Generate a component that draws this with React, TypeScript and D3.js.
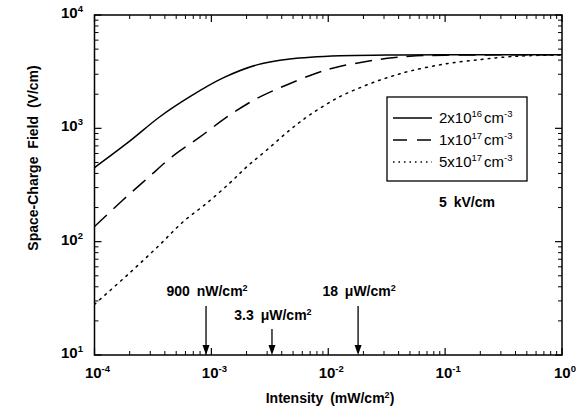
import React from "react";
import * as d3 from "d3";

// ---- data (intensity in mW/cm^2, field in V/cm) ----
const solidIntensity = [1e-4, 2e-4, 3.6e-4, 6.5e-4, 1.26e-3, 2.45e-3, 4.7e-3, 1.26e-2, 3.2e-2, 1e-1, 1];
const solidField = [450, 770, 1259, 1893, 2786, 3631, 4100, 4380, 4430, 4450, 4460];

const dashedIntensity = [1e-4, 1.75e-4, 2.86e-4, 4.6e-4, 8e-4, 1.44e-3, 2.5e-3, 4.4e-3, 8e-3, 1.2e-2, 2e-2, 3.2e-2, 5e-2, 1e-1, 3.2e-1, 1];
const dashedField = [136, 233, 365, 560, 840, 1312, 1855, 2415, 3083, 3483, 3850, 4150, 4330, 4420, 4450, 4460];

const dottedIntensity = [1e-4, 2e-4, 3.6e-4, 5.7e-4, 9.2e-4, 1.44e-3, 2e-3, 2.98e-3, 4.7e-3, 6.95e-3, 1.2e-2, 2e-2, 3.2e-2, 5e-2, 1e-1, 2e-1, 3.2e-1, 5e-1, 1];
const dottedField = [28, 53, 93.5, 149, 220, 330, 456, 644, 968, 1313, 1855, 2350, 2800, 3200, 3700, 4050, 4250, 4370, 4450];

const legendBase = ["2x10", "1x10", "5x10"];
const legendExp = ["16", "17", "17"];

const xMajor = [1e-4, 1e-3, 1e-2, 1e-1, 1];
const xMajorExp = ["-4", "-3", "-2", "-1", "0"];
const yMajor = [10, 100, 1000, 10000];
const yMajorExp = ["1", "2", "3", "4"];

const markerIntensity = [9e-4, 3.3e-3, 1.8e-2];
const markerBase = ["900 nW/cm", "3.3 \u03bcW/cm", "18 \u03bcW/cm"];

const W = 577, H = 413;
const L = 94.5, R = 562, T = 15, B = 355;
const FONT = "'Liberation Sans', Arial, Helvetica, sans-serif";

export default function App() {
  const x = d3.scaleLog().domain([1e-4, 1]).range([L, R]);
  const y = d3.scaleLog().domain([10, 1e4]).range([B, T]);

  const line = d3
    .line<[number, number]>()
    .x((d) => x(d[0]))
    .y((d) => y(d[1]))
    .curve(d3.curveCatmullRom.alpha(0.5));

  const zip = (a: number[], b: number[]) => a.map((v, i) => [v, b[i]] as [number, number]);

  const series = [
    { d: zip(solidIntensity, solidField), dash: undefined as string | undefined },
    { d: zip(dashedIntensity, dashedField), dash: "17,9" },
    { d: zip(dottedIntensity, dottedField), dash: "1.8,5.2" },
  ];

  const minor = (lo: number, hi: number) => {
    const out: number[] = [];
    for (let p = lo; p < hi; p++) for (let m = 2; m <= 9; m++) out.push(m * Math.pow(10, p));
    return out;
  };
  const xMinor = minor(-4, 0);
  const yMinor = minor(1, 4);

  const majLen = 7, minLen = 4;

  const markerLabelY = [296, 320, 296];
  const markerArrowTop = [306, 329, 306];

  return (
    <svg width={W} height={H} style={{ position: "absolute", left: 0, top: 0, background: "#fff" }} fontFamily={FONT}>
      <defs>
        <clipPath id="clip">
          <rect x={L} y={T} width={R - L} height={B - T} />
        </clipPath>
      </defs>
      <rect x={0} y={0} width={W} height={H} fill="#fff" />
      {/* curves */}
      <g clipPath="url(#clip)">
        {series.map((s, i) => (
          <path key={i} d={line(s.d) || ""} fill="none" stroke="#000" strokeWidth={1.5}
            strokeDasharray={s.dash} strokeLinecap={i === 2 ? "round" : "butt"} />
        ))}
      </g>

      {/* frame */}
      <rect x={L} y={T} width={R - L} height={B - T} fill="none" stroke="#000" strokeWidth={1.5} />

      {/* x ticks bottom and top */}
      {xMinor.map((v, i) => (
        <g key={"xm" + i}>
          <line x1={x(v)} x2={x(v)} y1={B} y2={B - minLen} stroke="#000" strokeWidth={1} />
          <line x1={x(v)} x2={x(v)} y1={T} y2={T + minLen} stroke="#000" strokeWidth={1} />
        </g>
      ))}
      {xMajor.map((v, i) => (
        <g key={"xM" + i}>
          <line x1={x(v)} x2={x(v)} y1={B} y2={B - majLen} stroke="#000" strokeWidth={1.2} />
          <line x1={x(v)} x2={x(v)} y1={T} y2={T + majLen} stroke="#000" strokeWidth={1.2} />
          <text x={x(v) + 3} y={378} textAnchor="middle" fontSize={15} fontWeight="bold">
            10<tspan dy={-6} fontSize={9.5}>{xMajorExp[i]}</tspan>
          </text>
        </g>
      ))}

      {/* y ticks left and right */}
      {yMinor.map((v, i) => (
        <g key={"ym" + i}>
          <line x1={L} x2={L + minLen} y1={y(v)} y2={y(v)} stroke="#000" strokeWidth={1} />
          <line x1={R} x2={R - minLen} y1={y(v)} y2={y(v)} stroke="#000" strokeWidth={1} />
        </g>
      ))}
      {yMajor.map((v, i) => (
        <g key={"yM" + i}>
          <line x1={L} x2={L + majLen} y1={y(v)} y2={y(v)} stroke="#000" strokeWidth={1.2} />
          <line x1={R} x2={R - majLen} y1={y(v)} y2={y(v)} stroke="#000" strokeWidth={1.2} />
          <text x={83} y={y(v) + 3} textAnchor="end" fontSize={15} fontWeight="bold">
            10<tspan dy={-6} fontSize={9.5}>{yMajorExp[i]}</tspan>
          </text>
        </g>
      ))}

      {/* axis titles */}
      <text x={330} y={403} textAnchor="middle" fontSize={14} fontWeight="bold" wordSpacing={3}>
        Intensity (mW/cm<tspan dy={-5} fontSize={9}>2</tspan><tspan dy={5}>)</tspan>
      </text>
      <text transform={`translate(38,158) rotate(-90)`} textAnchor="middle" fontSize={14} fontWeight="bold" wordSpacing={4}>
        Space-Charge Field (V/cm)
      </text>

      {/* legend */}
      <rect x={387} y={97} width={140} height={84} fill="#fff" stroke="#000" strokeWidth={1.3} />
      {legendBase.map((b, i) => {
        const ly = 118 + i * 22;
        return (
          <g key={"lg" + i}>
            <line x1={393} x2={432} y1={ly} y2={ly} stroke="#000" strokeWidth={1.5}
              strokeDasharray={i === 1 ? "14,10" : i === 2 ? "1.5,4" : undefined} />
            <text x={439} y={ly + 5} fontSize={15}>
              {b}<tspan dy={-6} fontSize={9.5}>{legendExp[i]}</tspan>
              <tspan dy={6} dx={2}>cm</tspan><tspan dy={-6} fontSize={9.5}>-3</tspan>
            </text>
          </g>
        );
      })}
      <text x={467} y={207} textAnchor="middle" fontSize={14} fontWeight="bold" wordSpacing={3}>5 kV/cm</text>

      {/* intensity markers */}
      {markerIntensity.map((v, i) => {
        const mx = x(v);
        return (
          <g key={"mk" + i}>
            <line x1={mx} x2={mx} y1={markerArrowTop[i]} y2={B - 6} stroke="#000" strokeWidth={1.3} />
            <path d={`M${mx - 3.5},${B - 10} L${mx + 3.5},${B - 10} L${mx},${B} Z`} fill="#000" />
            <text x={mx + 1} y={markerLabelY[i]} textAnchor="middle" fontSize={14} fontWeight="bold" wordSpacing={3}>
              {markerBase[i]}<tspan dy={-5} fontSize={9}>2</tspan>
            </text>
          </g>
        );
      })}
    </svg>
  );
}
